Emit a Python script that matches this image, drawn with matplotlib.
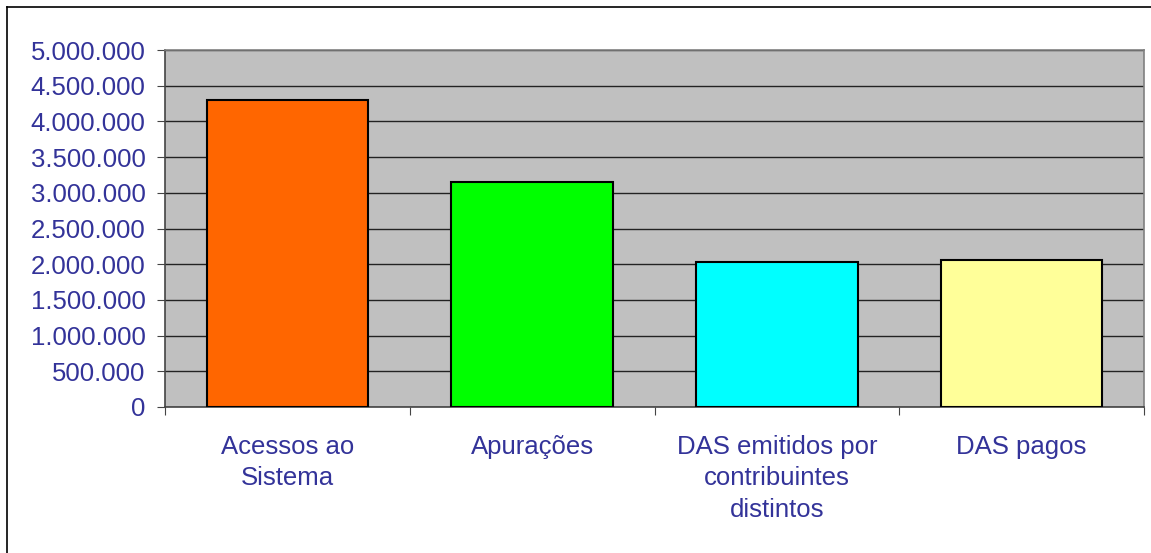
import numpy as np
import matplotlib.pyplot as plt
from matplotlib.ticker import FuncFormatter
from matplotlib.lines import Line2D

categories = ["Acessos ao\nSistema", "Apurações", "DAS emitidos por\ncontribuintes\ndistintos", "DAS pagos"]
values = [4300000, 3150000, 2035000, 2063000]
colors = ["#FF6600", "#00FF00", "#00FFFF", "#FFFF99"]
yticks = np.arange(0, 5000001, 500000)

plt.rcParams['font.family'] = ['Liberation Sans', 'DejaVu Sans']
txt = "#333399"

fig = plt.figure(figsize=(11.51, 5.53), dpi=100)
ax = fig.add_axes([165/1151, 1-407/553, (1144-165)/1151, (407-50)/553])
ax.set_facecolor("#C0C0C0")

x = np.arange(len(categories))
ax.bar(x, values, width=0.66, color=colors, edgecolor="black", linewidth=1.5, zorder=3)

ax.set_ylim(0, 5000000)
ax.set_xlim(-0.5, len(categories) - 0.5)
ax.set_yticks(yticks)
ax.yaxis.set_major_formatter(FuncFormatter(lambda v, p: f"{int(v):,}".replace(",", ".")))
ax.yaxis.grid(True, color="#222222", linewidth=1.0, zorder=1)
ax.set_axisbelow(True)

ax.set_xticks(np.arange(-0.5, len(categories), 1.0))
ax.set_xticklabels([])
ax.set_xticks(x, minor=True)
ax.set_xticklabels(categories, minor=True, linespacing=1.4)
ax.tick_params(axis="x", which="minor", length=0, pad=20, labelsize=18.5, labelcolor=txt)
ax.tick_params(axis="x", which="major", length=6, direction="out", color="#444444")
ax.tick_params(axis="y", length=6, direction="out", labelsize=18.5, labelcolor=txt, color="#444444", pad=8)

for s in ["top", "right"]:
    ax.spines[s].set_color("#808080")
    ax.spines[s].set_linewidth(1.2)
for s in ["left", "bottom"]:
    ax.spines[s].set_color("#444444")
    ax.spines[s].set_linewidth(1.2)

# outer chart border
fig.add_artist(Line2D([7/1151, 1], [1-7/553, 1-7/553], color="black", linewidth=1.2))
fig.add_artist(Line2D([7/1151, 7/1151], [0, 1-7/553], color="black", linewidth=1.2))

fig.savefig("out.png", dpi=100)
